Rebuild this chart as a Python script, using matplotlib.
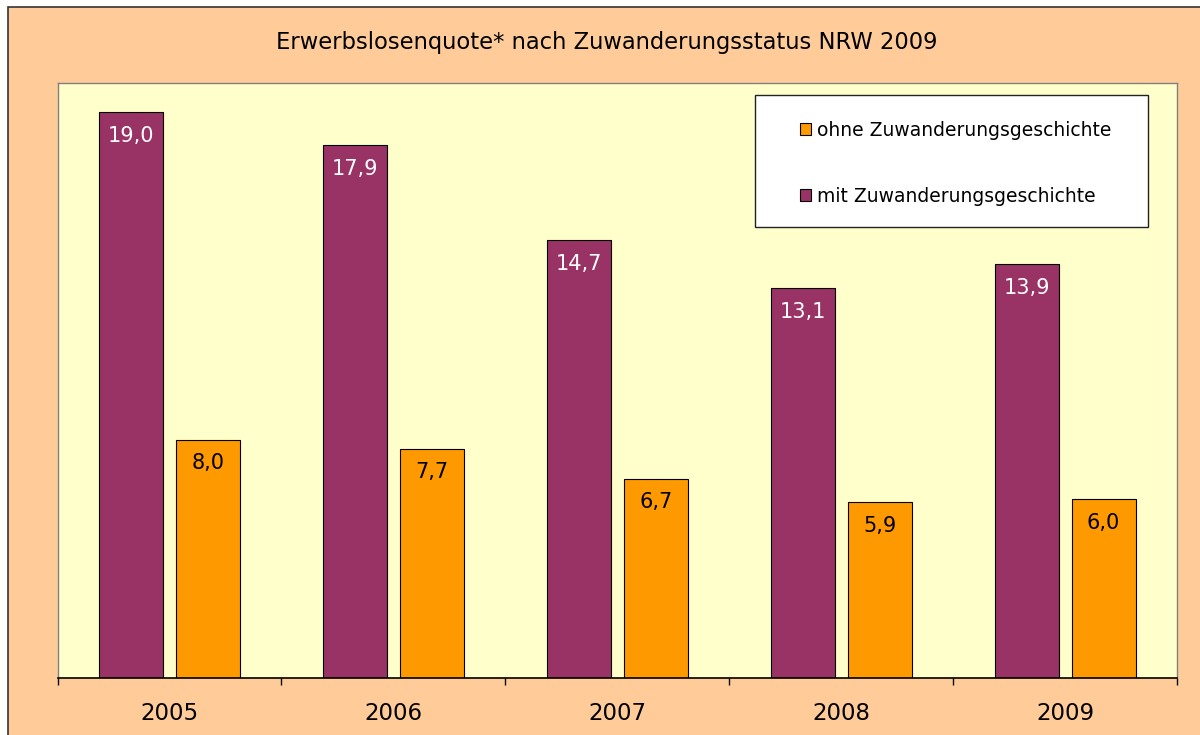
import numpy as np
import matplotlib
matplotlib.use("Agg")
import matplotlib.pyplot as plt
from matplotlib.patches import Rectangle

# Daten
jahre = ["2005", "2006", "2007", "2008", "2009"]
mit_zuw = [19.0, 17.9, 14.7, 13.1, 13.9]
ohne_zuw = [8.0, 7.7, 6.7, 5.9, 6.0]
label_mit = "mit Zuwanderungsgeschichte"
label_ohne = "ohne Zuwanderungsgeschichte"
titel = "Erwerbslosenquote* nach Zuwanderungsstatus NRW 2009"

c_mit = "#993366"
c_ohne = "#FF9900"

fig = plt.figure(figsize=(12, 7.35), dpi=100)
fig.patch.set_facecolor("white")
# aeusserer Diagrammbereich
fig.patches.append(Rectangle((8 / 1200, -0.05), 1.2, 1 - 7 / 735 + 0.05,
                             transform=fig.transFigure, facecolor="#FFCC99",
                             edgecolor="#333333", linewidth=1.2, zorder=-10))

ax = fig.add_axes([57.5 / 1200, 57 / 735, 1119.5 / 1200, 595.5 / 735])
ax.set_facecolor("#FFFFCC")

x = np.arange(len(jahre))
w = 0.286
off = 0.172
b1 = ax.bar(x - off, mit_zuw, w, color=c_mit, edgecolor="black", linewidth=0.8, label=label_mit)
b2 = ax.bar(x + off, ohne_zuw, w, color=c_ohne, edgecolor="black", linewidth=0.8, label=label_ohne)

for bars, vals, col in [(b1, mit_zuw, "white"), (b2, ohne_zuw, "black")]:
    for r, v in zip(bars, vals):
        ax.annotate(f"{v:.1f}".replace(".", ","),
                    (r.get_x() + r.get_width() / 2, r.get_height()),
                    xytext=(0, -17), textcoords="offset points",
                    ha="center", va="center", fontsize=15, color=col)

ax.set_xlim(-0.5, len(jahre) - 0.5)
ax.set_ylim(0, 20)
ax.set_yticks([])
ax.set_xticks(np.arange(len(jahre) + 1) - 0.5)
ax.set_xticklabels([])
ax.tick_params(axis="x", which="major", length=5, width=1, direction="out", color="black")
ax.set_xticks(x, minor=True)
ax.set_xticklabels(jahre, minor=True, fontsize=16.5)
ax.tick_params(axis="x", which="minor", length=0, pad=17)

for s in ["top", "left", "right"]:
    ax.spines[s].set_color("#808080")
    ax.spines[s].set_linewidth(1)
ax.spines["bottom"].set_color("black")
ax.spines["bottom"].set_linewidth(1.2)

# Legende
ax.add_patch(Rectangle((0.623, 0.757), 0.351, 0.222, transform=ax.transAxes,
                       facecolor="white", edgecolor="#222222", linewidth=1, zorder=4))
leg = ax.legend(handles=[b2, b1], labels=[label_ohne, label_mit], loc="upper left",
                bbox_to_anchor=(0.663, 0.936), frameon=False, fontsize=13.5,
                handlelength=0.62, handleheight=0.62, handletextpad=0.3,
                labelspacing=2.52, borderpad=0, borderaxespad=0)
leg.set_zorder(5)

fig.text(607 / 1200, 1 - 42 / 735, titel, ha="center", va="center", fontsize=16.3)

fig.savefig("out.png", dpi=100, facecolor=fig.get_facecolor())
